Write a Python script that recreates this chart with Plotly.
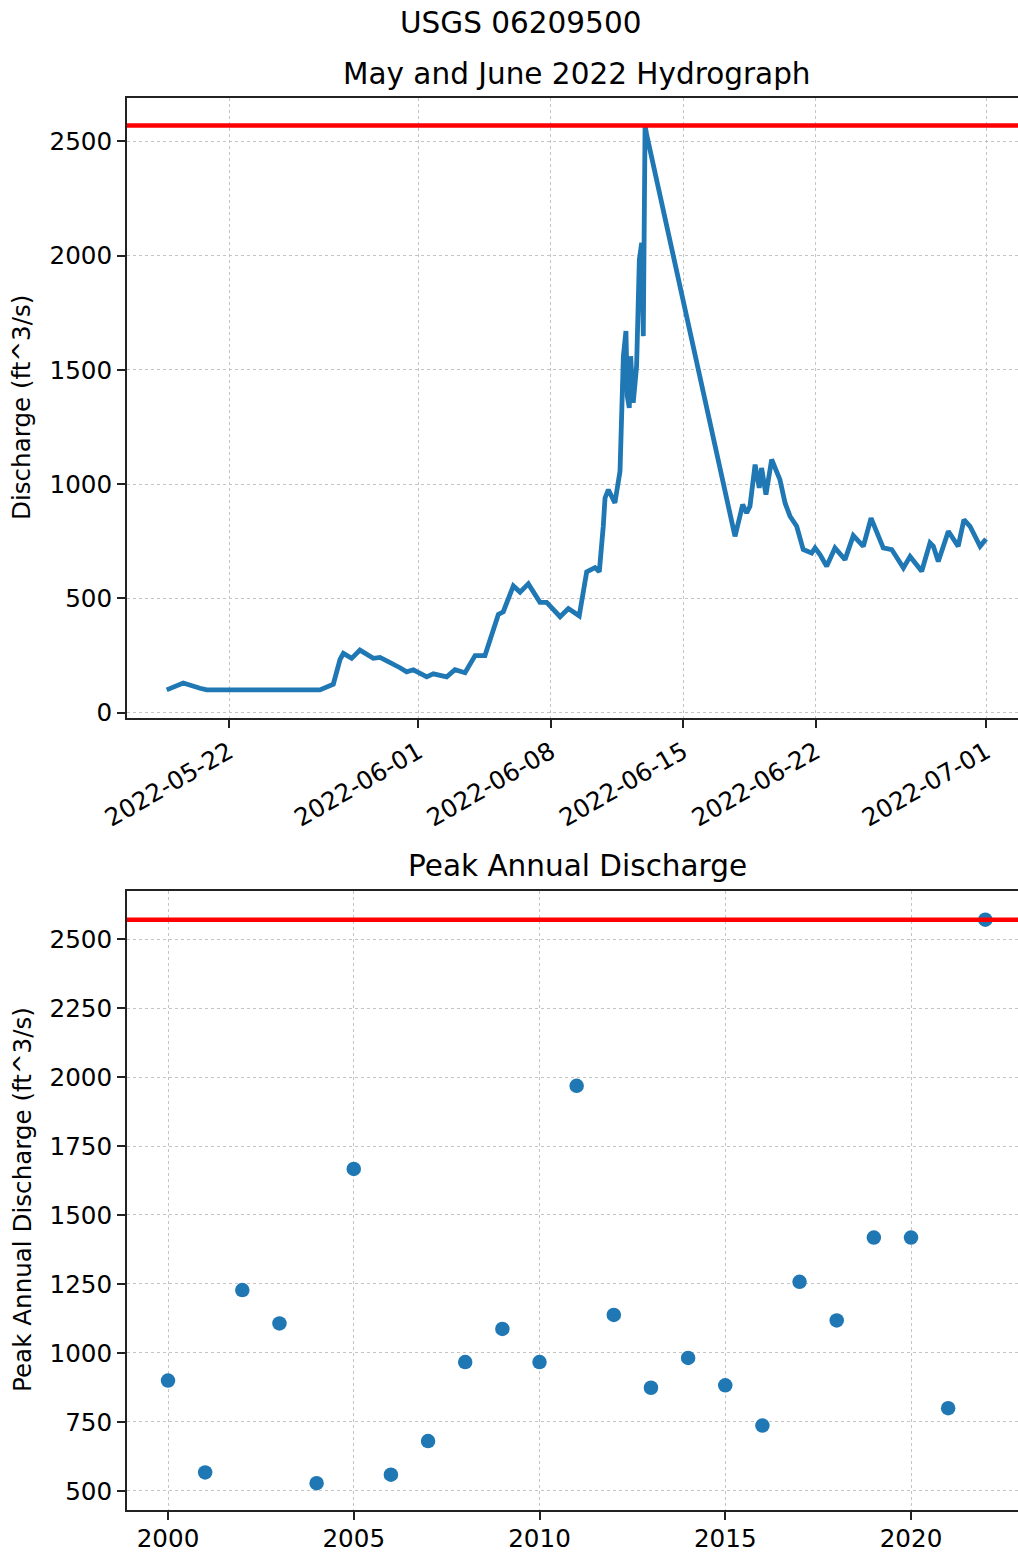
import plotly.graph_objects as go

# ---------------- data ----------------
station = "USGS 06209500"

hydro_times = [
    "2022-05-18 17:00", "2022-05-19 07:45", "2022-05-19 14:00", "2022-05-20 11:15",
    "2022-05-20 19:45", "2022-05-26 19:15", "2022-05-27 04:00", "2022-05-27 12:15",
    "2022-05-27 20:45", "2022-05-28 01:00", "2022-05-28 11:30", "2022-05-28 22:00",
    "2022-05-29 15:00", "2022-05-29 23:30", "2022-05-30 08:00", "2022-05-30 16:15",
    "2022-05-31 00:45", "2022-05-31 09:15", "2022-05-31 17:45", "2022-06-01 10:45",
    "2022-06-01 19:00", "2022-06-02 12:00", "2022-06-02 22:30", "2022-06-03 11:15",
    "2022-06-04 00:00", "2022-06-04 12:30", "2022-06-05 05:30", "2022-06-05 11:45",
    "2022-06-05 16:00", "2022-06-06 00:30", "2022-06-06 09:00", "2022-06-06 19:30",
    "2022-06-07 10:15", "2022-06-07 18:45", "2022-06-08 11:45", "2022-06-08 22:15",
    "2022-06-09 12:00", "2022-06-09 21:30", "2022-06-10 08:00", "2022-06-10 13:30",
    "2022-06-10 18:30", "2022-06-10 20:45", "2022-06-11 01:00", "2022-06-11 09:15",
    "2022-06-11 15:45", "2022-06-11 20:00", "2022-06-11 23:15", "2022-06-12 01:00",
    "2022-06-12 03:30", "2022-06-12 05:15", "2022-06-12 08:30", "2022-06-12 12:45",
    "2022-06-12 16:15", "2022-06-12 19:15", "2022-06-12 21:15", "2022-06-12 23:30",
    "2022-06-13 01:30", "2022-06-17 17:30", "2022-06-17 23:45", "2022-06-18 03:15",
    "2022-06-18 08:15", "2022-06-18 12:30", "2022-06-18 19:00", "2022-06-19 00:15",
    "2022-06-19 03:15", "2022-06-19 08:45", "2022-06-19 16:00", "2022-06-19 22:30",
    "2022-06-20 02:30", "2022-06-20 09:00", "2022-06-20 15:15", "2022-06-20 23:45",
    "2022-06-21 08:00", "2022-06-21 18:45", "2022-06-21 23:00", "2022-06-22 05:15",
    "2022-06-22 13:45", "2022-06-23 00:15", "2022-06-23 13:00", "2022-06-23 23:30",
    "2022-06-24 12:15", "2022-06-24 22:00", "2022-06-25 05:15", "2022-06-25 13:30",
    "2022-06-26 00:15", "2022-06-26 15:00", "2022-06-26 23:30", "2022-06-27 14:15",
    "2022-06-28 00:45", "2022-06-28 05:00", "2022-06-28 11:15", "2022-06-29 00:00",
    "2022-06-29 12:30", "2022-06-29 19:45", "2022-06-30 03:30", "2022-06-30 16:15",
    "2022-06-30 23:45",
]
hydro_discharge = [
    100, 125, 130, 107,
    100, 100, 113, 125,
    233, 260, 238, 274,
    238, 242, 227, 215,
    197, 179, 188, 157,
    170, 157, 188, 175,
    250, 250, 430, 442,
    483, 555, 528, 564,
    483, 483, 420, 456,
    424, 617, 635, 617,
    816, 940, 976, 918,
    1057, 1560, 1670, 1385,
    1334, 1560, 1356, 1516,
    1983, 2056, 1648, 2570,
    2530, 772, 860, 911,
    874, 903, 1086, 984,
    1071, 954, 1108, 1049,
    1020, 918, 860, 816,
    714, 699, 721, 692,
    641, 721, 670, 775,
    728, 852, 787, 721,
    714, 634, 684, 619,
    743, 728, 662, 794,
    728, 845, 816, 728,
    760,
]

peak_years = list(range(2000, 2023))
peak_discharge = [
    900, 567, 1228, 1107, 528, 1667, 559, 681, 967, 1087, 967, 1968,
    1138, 874, 982, 883, 737, 1258, 1118, 1418, 1418, 800, 2570,
]

hydro_ticks = ["2022-05-22", "2022-06-01", "2022-06-08", "2022-06-15", "2022-06-22", "2022-07-01"]
hydro_yticks = [0, 500, 1000, 1500, 2000, 2500]
peak_xticks = [2000, 2005, 2010, 2015, 2020]
peak_yticks = [500, 750, 1000, 1250, 1500, 1750, 2000, 2250, 2500]

record_peak = max(peak_discharge)

# ---------------- figure ----------------
W, H = 1018, 1554
BLUE = "#1f77b4"
FONT = "DejaVu Sans"

fig = go.Figure()
fig.add_trace(go.Scatter(
    x=hydro_times, y=hydro_discharge, mode="lines",
    line=dict(color=BLUE, width=4.8), xaxis="x", yaxis="y", showlegend=False,
))
fig.add_trace(go.Scatter(
    x=peak_years, y=peak_discharge, mode="markers",
    marker=dict(color=BLUE, size=14.5, line=dict(width=0)),
    xaxis="x2", yaxis="y2", showlegend=False,
))

# red record lines (drawn above data, as axhline)
for xr, yr in (("x domain", "y"), ("x2 domain", "y2")):
    fig.add_shape(type="line", xref=xr, yref=yr, x0=0, x1=1, y0=record_peak, y1=record_peak,
                  line=dict(color="#ff0000", width=4.5), layer="above")

axis_common = dict(
    showline=True, linecolor="#222222", linewidth=2,
    ticks="outside", ticklen=8, tickwidth=2, tickcolor="#222222",
    showgrid=True, gridcolor="#c4c4c4", gridwidth=1, griddash="dot",
    zeroline=False, tickfont=dict(family=FONT, size=24.6, color="black"),
    automargin=False,
)

xdom = [127 / W, 1.0]
top_dom = [1 - 718 / H, 1 - 98 / H]
bot_dom = [1 - 1510 / H, 1 - 891 / H]

fig.update_layout(
    width=W, height=H,
    margin=dict(l=0, r=0, t=0, b=0),
    paper_bgcolor="white", plot_bgcolor="white",
    font=dict(family=FONT, color="black"),
    xaxis=dict(**axis_common, domain=xdom, anchor="y", type="date",
               range=["2022-05-16 14:41", "2022-07-02 16:19"],
               tickvals=hydro_ticks, ticktext=hydro_ticks, tickangle=-30, mirror=True),
    yaxis=dict(**axis_common, domain=top_dom, anchor="x",
               range=[-23, 2690], tickvals=hydro_yticks, mirror=False),
    xaxis2=dict(**axis_common, domain=xdom, anchor="y2",
                range=[1998.896, 2022.88], tickvals=peak_xticks, mirror=True,
                ticklabelstandoff=-3),
    yaxis2=dict(**axis_common, domain=bot_dom, anchor="x2",
                range=[431, 2674], tickvals=peak_yticks, mirror=False),
)

def px_x(p):
    return p / W

def px_y(p):
    return 1 - p / H

annots = [
    dict(text=station, x=px_x(520), y=px_y(23), size=29.5, angle=0),
    dict(text="May and June 2022 Hydrograph", x=px_x(577), y=px_y(74), size=29.5, angle=0),
    dict(text="Peak Annual Discharge", x=px_x(577), y=px_y(866), size=29.5, angle=0),
    dict(text="Discharge (ft^3/s)", x=px_x(22), y=px_y(408), size=24.6, angle=-90),
    dict(text="Peak Annual Discharge (ft^3/s)", x=px_x(22), y=px_y(1200), size=24.6, angle=-90),
]
for a in annots:
    fig.add_annotation(text=a["text"], x=a["x"], y=a["y"], xref="paper", yref="paper",
                       xanchor="center", yanchor="middle", showarrow=False,
                       textangle=a["angle"], font=dict(family=FONT, size=a["size"], color="black"))

fig.write_html("out.html", config={"displayModeBar": False})
